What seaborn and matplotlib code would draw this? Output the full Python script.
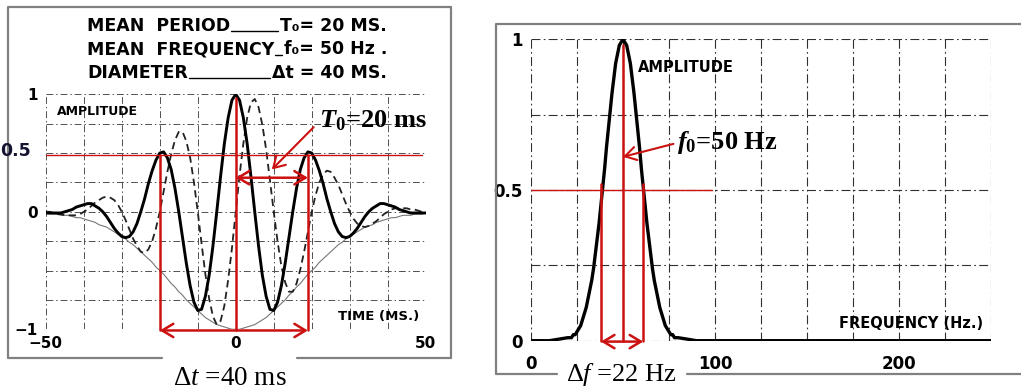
import seaborn as sns
import matplotlib.pyplot as plt
from matplotlib import font_manager
from matplotlib.lines import Line2D

# left panel: wavelet, one value per ms
time_ms = list(range(-50, 51))
wavelet_real = [
    -0.01, -0.01, -0.01, -0.01, -0.01, 0.00, 0.01, 0.02, 0.04, 0.05,
    0.06, 0.07, 0.07, 0.05, 0.03, 0.00, -0.04, -0.09, -0.14, -0.18,
    -0.21, -0.22, -0.21, -0.17, -0.10, 0.00, 0.11, 0.24, 0.35, 0.44,
    0.50, 0.51, 0.46, 0.36, 0.20, 0.00, -0.22, -0.44, -0.63, -0.77,
    -0.84, -0.83, -0.72, -0.54, -0.29, 0.00, 0.30, 0.58, 0.80, 0.95,
    1.00, 0.95, 0.80, 0.58, 0.30, 0.00, -0.29, -0.54, -0.72, -0.83,
    -0.84, -0.77, -0.63, -0.44, -0.22, 0.00, 0.20, 0.36, 0.46, 0.51,
    0.50, 0.44, 0.35, 0.24, 0.11, 0.00, -0.10, -0.17, -0.21, -0.22,
    -0.21, -0.18, -0.14, -0.09, -0.04, 0.00, 0.03, 0.05, 0.07, 0.07,
    0.06, 0.05, 0.04, 0.02, 0.01, 0.00, -0.01, -0.01, -0.01, -0.01,
    -0.01]
wavelet_quad = [
    0.00, 0.00, -0.01, -0.02, -0.02, -0.03, -0.03, -0.03, -0.03, -0.02,
    0.00, 0.02, 0.05, 0.08, 0.10, 0.12, 0.13, 0.12, 0.10, 0.06,
    0.00, -0.07, -0.15, -0.23, -0.29, -0.34, -0.35, -0.32, -0.25, -0.14,
    0.00, 0.17, 0.34, 0.49, 0.61, 0.68, 0.68, 0.60, 0.46, 0.25,
    0.00, -0.27, -0.53, -0.74, -0.89, -0.96, -0.93, -0.80, -0.58, -0.31,
    0.00, 0.31, 0.58, 0.80, 0.93, 0.96, 0.89, 0.74, 0.53, 0.27,
    0.00, -0.25, -0.46, -0.60, -0.68, -0.68, -0.61, -0.49, -0.34, -0.17,
    0.00, 0.14, 0.25, 0.32, 0.35, 0.34, 0.29, 0.23, 0.15, 0.07,
    0.00, -0.06, -0.10, -0.12, -0.13, -0.12, -0.10, -0.08, -0.05, -0.02,
    0.00, 0.02, 0.03, 0.03, 0.03, 0.03, 0.02, 0.02, 0.01, 0.00,
    0.00]
envelope = [
    -0.01, -0.02, -0.02, -0.02, -0.03, -0.03, -0.03, -0.04, -0.05, -0.05,
    -0.06, -0.07, -0.08, -0.09, -0.11, -0.12, -0.13, -0.15, -0.17, -0.19,
    -0.21, -0.23, -0.26, -0.28, -0.31, -0.34, -0.37, -0.40, -0.43, -0.47,
    -0.50, -0.53, -0.57, -0.61, -0.64, -0.68, -0.71, -0.75, -0.78, -0.81,
    -0.84, -0.87, -0.90, -0.92, -0.94, -0.96, -0.97, -0.98, -0.99, -1.00,
    -1.00, -1.00, -0.99, -0.98, -0.97, -0.96, -0.94, -0.92, -0.90, -0.87,
    -0.84, -0.81, -0.78, -0.75, -0.71, -0.68, -0.64, -0.61, -0.57, -0.53,
    -0.50, -0.47, -0.43, -0.40, -0.37, -0.34, -0.31, -0.28, -0.26, -0.23,
    -0.21, -0.19, -0.17, -0.15, -0.13, -0.12, -0.11, -0.09, -0.08, -0.07,
    -0.06, -0.05, -0.05, -0.04, -0.03, -0.03, -0.03, -0.02, -0.02, -0.02,
    -0.01]

# right panel: amplitude spectrum
spec_freq = [0, 10] + list(range(20, 81)) + list(range(90, 251, 10))
spec_amp = [
    0.00, 0.00,
    0.01, 0.01, 0.01, 0.02, 0.02, 0.03, 0.04, 0.05, 0.07, 0.09,
    0.11, 0.14, 0.17, 0.20, 0.24, 0.29, 0.34, 0.39, 0.45, 0.51,
    0.57, 0.64, 0.70, 0.76, 0.82, 0.87, 0.92, 0.95, 0.98, 0.99,
    1.00, 0.99, 0.98, 0.95, 0.92, 0.87, 0.82, 0.76, 0.70, 0.64,
    0.57, 0.51, 0.45, 0.39, 0.34, 0.29, 0.24, 0.20, 0.17, 0.14,
    0.11, 0.09, 0.07, 0.05, 0.04, 0.03, 0.02, 0.02, 0.01, 0.01,
    0.01,
    0.00, 0.00, 0.00, 0.00, 0.00, 0.00, 0.00, 0.00, 0.00, 0.00,
    0.00, 0.00, 0.00, 0.00, 0.00, 0.00, 0.00]

header_labels = ["MEAN  PERIOD", "MEAN  FREQUENCY", "DIAMETER"]
header_values = ["T\u2080= 20 MS.", "f\u2080= 50 Hz .", "\u0394t = 40 MS."]

sns.set_style("white")
plt.rcParams['font.family'] = ['DejaVu Sans']
plt.rcParams['text.color'] = 'black'
plt.rcParams['xtick.color'] = 'black'
plt.rcParams['ytick.color'] = 'black'
plt.rcParams['mathtext.fontset'] = 'custom'
plt.rcParams['mathtext.rm'] = 'Liberation Serif'
plt.rcParams['mathtext.it'] = 'Liberation Serif:italic'
plt.rcParams['mathtext.bf'] = 'Liberation Serif:bold'
plt.rcParams['mathtext.bfit'] = 'Liberation Serif:italic:bold'

# the scanned labels use a narrow bold face; take Liberation Sans Narrow if present
installed = {f.name for f in font_manager.fontManager.ttflist}
if 'Liberation Sans Narrow' in installed:
    LAB = ['Liberation Sans Narrow', 'DejaVu Sans']
    SZ = dict(head=14.5, amp1=11, time=12, amp2=14, freq=13.5, tick1x=13,
              tick1y=12, tick2=15)
else:
    LAB = ['DejaVu Sans']
    SZ = dict(head=12.5, amp1=9, time=9.5, amp2=10.5, freq=10.5, tick1x=11,
              tick1y=11, tick2=12)

W, H = 1021, 389
RED = '#cc1111'
GRID1 = dict(color='#505050', linewidth=0.7, linestyle=(0, (7, 3, 1.5, 3)))
GRID2 = dict(color='#303030', linewidth=0.8, linestyle=(0, (8, 3, 1.5, 3)))


def fx(px):
    return px / W


def fy(py):
    return 1 - py / H


fig = plt.figure(figsize=(W / 100, H / 100), dpi=100)

# ---------- left: wavelet ----------
ax1 = fig.add_axes([fx(45.8), fy(329.3), 379.9 / W, 235 / H])
ax1.set_facecolor('none')
sns.lineplot(x=time_ms, y=envelope, ax=ax1, color='#777777', linewidth=0.8)
sns.lineplot(x=time_ms, y=wavelet_quad, ax=ax1, color='#222222', linewidth=1.3,
             linestyle=(0, (4, 2.5)))
sns.lineplot(x=time_ms, y=wavelet_real, ax=ax1, color='black', linewidth=2.1)
ax1.set_xlim(-50, 50)
ax1.set_ylim(-1, 1)
ax1.set_xticks(range(-50, 51, 10))
ax1.set_xticklabels(['\u221250', '', '', '', '', '0', '', '', '', '', '50'])
ax1.set_yticks([-1, -0.75, -0.5, -0.25, 0, 0.25, 0.5, 0.75, 1])
ax1.set_yticklabels(['\u22121', '', '', '', '0', '', '', '', '1'])
ax1.tick_params(axis='x', length=0, labelsize=SZ['tick1x'], pad=5)
ax1.tick_params(axis='y', length=0, labelsize=SZ['tick1y'], pad=6)
for lab in ax1.get_xticklabels() + ax1.get_yticklabels():
    lab.set_fontweight('bold')
    lab.set_fontfamily(LAB)
ax1.grid(True, **GRID1)
for s in ax1.spines.values():
    s.set_visible(False)
ax1.set_xlabel('')
ax1.set_ylabel('')
ax1.text(-47.1, 0.82, 'AMPLITUDE', fontsize=SZ['amp1'], fontweight='bold',
         fontfamily=LAB, va='baseline')
ax1.text(26.9, -0.92, 'TIME (MS.)', fontsize=SZ['time'], fontweight='bold',
         fontfamily=LAB, va='baseline')

# red annotations on the wavelet
ax1.plot([-50, 49], [0.48, 0.48], color=RED, lw=1.0, clip_on=False)
for xv, ytop in [(-20, 0.48), (0, 0.97), (19, 0.48)]:
    ax1.plot([xv, xv], [ytop, -1.01], color=RED, lw=1.8, clip_on=False)
arrow2 = dict(arrowstyle='<->,head_length=0.5,head_width=0.3', color=RED, lw=1.8,
              mutation_scale=16, shrinkA=0, shrinkB=0)
ax1.annotate('', xy=(-20, -1.01), xytext=(19, -1.01), arrowprops=arrow2,
             annotation_clip=False)
ax1.annotate('', xy=(0, 0.29), xytext=(19, 0.29), arrowprops=arrow2)
ax1.annotate('', xy=(9.5, 0.36), xytext=(20.5, 0.72),
             arrowprops=dict(arrowstyle='->,head_length=0.5,head_width=0.3',
                             color=RED, lw=1.5, mutation_scale=16,
                             shrinkA=0, shrinkB=0))
ax1.text(22.0, 0.716, r'$\mathbfit{T}_{\mathbf{0}}$=20 ms', fontsize=19,
         fontfamily='Liberation Serif', fontweight='bold', va='baseline')
fig.text(fx(0), fy(151), '0.5', fontsize=12.5, fontweight='bold', color='#141432',
         va='center', ha='left')

# ---------- right: spectrum ----------
ax2 = fig.add_axes([fx(531), fy(340.7), 460 / W, 301.4 / H])
ax2.set_facecolor('none')
sns.lineplot(x=spec_freq, y=spec_amp, ax=ax2, color='black', linewidth=2.4)
ax2.set_xlim(0, 250)
ax2.set_ylim(0, 1)
ax2.set_xticks(range(0, 251, 25))
ax2.set_xticklabels(['0', '', '', '', '100', '', '', '', '200', '', ''])
ax2.set_yticks([0, 0.25, 0.5, 0.75, 1])
ax2.set_yticklabels(['0', '', '0.5', '', '1'])
ax2.tick_params(axis='x', length=0, labelsize=SZ['tick2'], pad=10)
ax2.tick_params(axis='y', length=0, labelsize=SZ['tick2'], pad=6)
for lab in ax2.get_xticklabels() + ax2.get_yticklabels():
    lab.set_fontweight('bold')
    lab.set_fontfamily(LAB)
ax2.grid(True, **GRID2)
for s in ax2.spines.values():
    s.set_visible(False)
ax2.set_xlabel('')
ax2.set_ylabel('')
ax2.text(58.2, 0.89, 'AMPLITUDE', fontsize=SZ['amp2'], fontweight='bold',
         fontfamily=LAB, va='baseline')
ax2.text(167.4, 0.042, 'FREQUENCY (Hz.)', fontsize=SZ['freq'], fontweight='bold',
         fontfamily=LAB, va='baseline')

ax2.plot([0, 98.5], [0.5, 0.5], color=RED, lw=1.0)
for xv, ytop in [(38, 0.52), (50, 0.98), (61, 0.52)]:
    ax2.plot([xv, xv], [ytop, 0.0], color=RED, lw=1.8, clip_on=False)
ax2.annotate('', xy=(38, -0.003), xytext=(61, -0.003), arrowprops=arrow2,
             annotation_clip=False)
ax2.annotate('', xy=(50, 0.61), xytext=(77.4, 0.653),
             arrowprops=dict(arrowstyle='->,head_length=0.5,head_width=0.3',
                             color=RED, lw=1.5, mutation_scale=16,
                             shrinkA=0, shrinkB=0))
ax2.text(79.5, 0.635, r'$\mathbfit{f}_{\mathbf{0}}$=50 Hz', fontsize=19,
         fontfamily='Liberation Serif', fontweight='bold', va='baseline')

# ---------- header block ----------
baselines = [31, 54.5, 77.7]
label_objs, value_objs = [], []
for lab, val, yb in zip(header_labels, header_values, baselines):
    label_objs.append(fig.text(fx(87), fy(yb), lab, fontsize=SZ['head'],
                               fontweight='bold', fontfamily=LAB,
                               va='baseline', ha='left'))
    value_objs.append(fig.text(fx(387), fy(yb), val, fontsize=SZ['head'],
                               fontweight='bold', fontfamily=LAB,
                               va='baseline', ha='right'))
fig.canvas.draw()
rend = fig.canvas.get_renderer()
for lt, vt, yb in zip(label_objs, value_objs, baselines):
    x0 = lt.get_window_extent(rend).x1 + 1
    x1 = vt.get_window_extent(rend).x0 - 2
    fig.add_artist(Line2D([x0 / W, x1 / W], [fy(yb), fy(yb)], color='black', lw=1.0))

# ---------- frames (with gaps for the captions) ----------
FR = dict(color='#808080', lw=1.6)
fig.add_artist(Line2D([fx(296.7), fx(450.7), fx(450.7), fx(8.3), fx(8.3), fx(162.3)],
                      [fy(358.3), fy(358.3), fy(6.7), fy(6.7), fy(358.3), fy(358.3)],
                      **FR))
fig.add_artist(Line2D([fx(1030), fx(495.7), fx(495.7), fx(557)],
                      [fy(24), fy(24), fy(374), fy(374)], **FR))
fig.add_artist(Line2D([fx(687), fx(1030)], [fy(374), fy(374)], **FR))

fig.text(fx(230), fy(385), r'$\Delta t$ =40 ms', fontsize=19.5,
         fontfamily='Liberation Serif', ha='center', va='baseline')
fig.text(fx(621), fy(381), r'$\Delta f$ =22 Hz', fontsize=19,
         fontfamily='Liberation Serif', ha='center', va='baseline')

fig.savefig('out.png', dpi=100)
